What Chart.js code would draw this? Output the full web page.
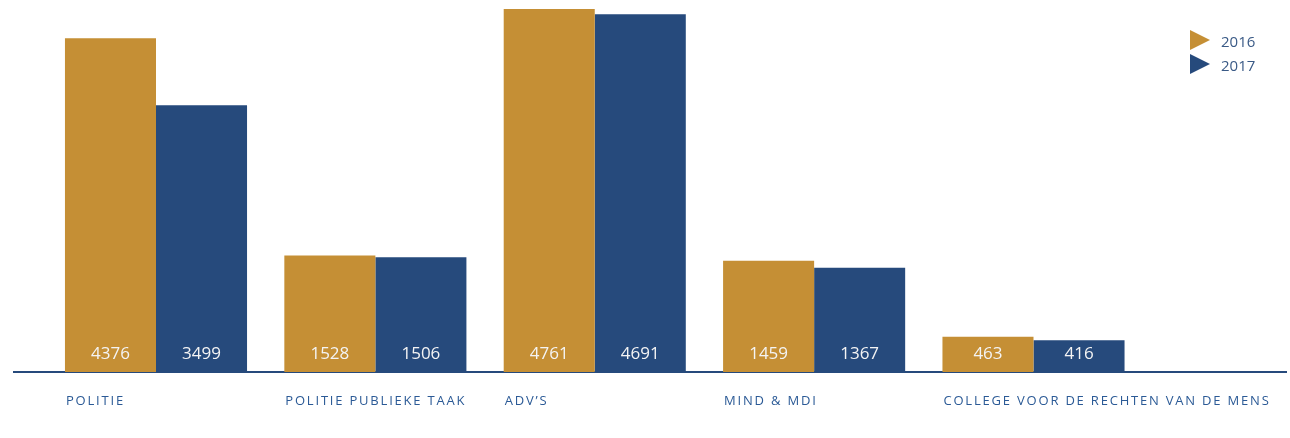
<!DOCTYPE html>
<html>
<head>
<meta charset="utf-8">
<script src="https://cdn.jsdelivr.net/npm/chart.js@4.4.0/dist/chart.umd.min.js"></script>
<style>
  html, body { margin: 0; padding: 0; background: #fff; }
  #wrap { width: 1290px; height: 438px; }
</style>
</head>
<body>
<div id="wrap"><canvas id="myChart"></canvas></div>
<script>
var categories = ['POLITIE', 'POLITIE PUBLIEKE TAAK', 'ADV\u2019S', 'MIND & MDI', 'COLLEGE VOOR DE RECHTEN VAN DE MENS'];
var years = ['2016', '2017'];
var values2016 = [4376, 1528, 4761, 1459, 463];
var values2017 = [3499, 1506, 4691, 1367, 416];

var gold = '#C58F35';
var blue = '#264A7C';

function points(vals) {
    return vals.map(function (v, i) { return { x: i, y: v }; });
}

// value labels inside the bars, category labels under the axis, legend top right
var textPlugin = {
    id: 'texts',
    afterDraw: function (chart) {
        var ctx = chart.ctx,
            area = chart.chartArea;
        ctx.save();

        ctx.font = '17px "Open Sans"';
        ctx.fillStyle = '#f4f4f4';
        ctx.textAlign = 'center';
        ctx.textBaseline = 'middle';
        chart.data.datasets.forEach(function (ds, d) {
            chart.getDatasetMeta(d).data.forEach(function (bar, i) {
                ctx.fillText(String(ds.data[i].y), bar.x, bar.base - 18);
            });
        });

        ctx.font = '13px "Open Sans"';
        ctx.letterSpacing = '1.8px';
        ctx.fillStyle = '#2B5A96';
        ctx.textAlign = 'left';
        chart.getDatasetMeta(0).data.forEach(function (bar, i) {
            ctx.fillText(categories[i], bar.x - bar.width / 2 + 1, area.bottom + 29);
        });
        ctx.letterSpacing = '0px';

        ctx.font = '15px "Open Sans"';
        chart.data.datasets.forEach(function (ds, d) {
            var cy = 40 + d * 24,
                tx = area.right - 96;
            ctx.fillStyle = ds.backgroundColor;
            ctx.beginPath();
            ctx.moveTo(tx, cy - 10);
            ctx.lineTo(tx + 20, cy);
            ctx.lineTo(tx, cy + 10);
            ctx.closePath();
            ctx.fill();
            ctx.fillStyle = '#3A5A86';
            ctx.fillText(ds.label, area.right - 65, cy + 3);
        });
        ctx.restore();
    }
};

var canvas = document.getElementById('myChart');
new Chart(canvas, {
    type: 'bar',
    data: {
        datasets: [{
            label: years[0],
            data: points(values2016),
            backgroundColor: gold
        }, {
            label: years[1],
            data: points(values2017),
            backgroundColor: blue
        }]
    },
    options: {
        responsive: true,
        maintainAspectRatio: false,
        animation: false,
        categoryPercentage: 0.83,
        barPercentage: 1,
        layout: {
            padding: { left: 14, right: 4, top: 6, bottom: 66 }
        },
        plugins: {
            legend: { display: false },
            tooltip: { enabled: false }
        },
        scales: {
            x: {
                type: 'linear',
                offset: false,
                min: -0.6473,
                max: 5.151,
                bounds: 'data',
                afterBuildTicks: function (scale) {
                    scale.ticks = categories.map(function (c, i) { return { value: i }; });
                },
                grid: { display: false, drawTicks: false, offset: false },
                border: { display: true, color: blue, width: 2 },
                ticks: { display: false }
            },
            y: {
                display: false,
                min: 0,
                max: 4800
            }
        }
    },
    plugins: [textPlugin]
});
</script>
</body>
</html>
